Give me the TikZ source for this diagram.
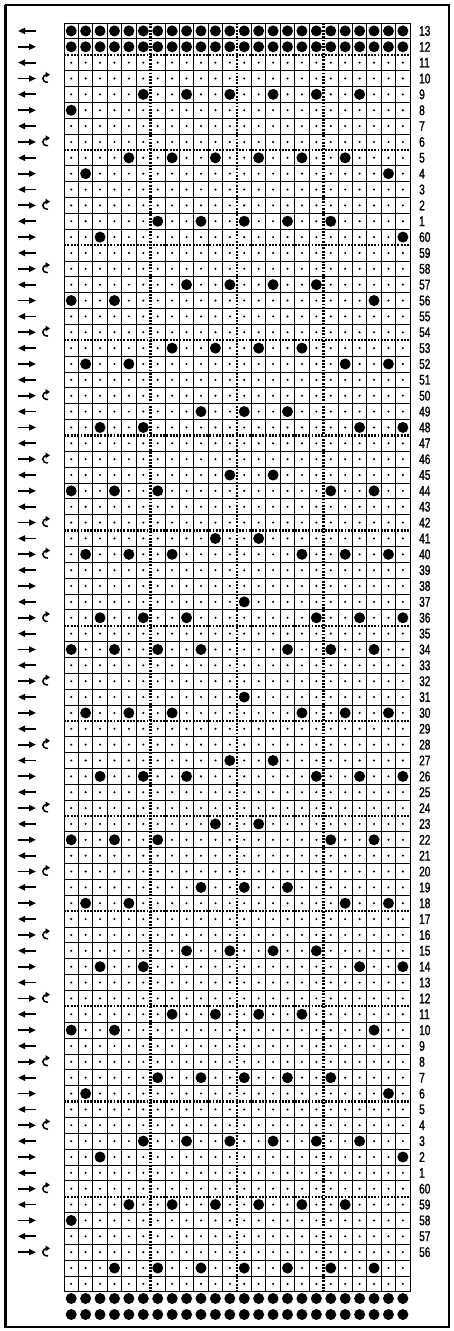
\documentclass[tikz,border=0pt]{standalone}
\usepackage{fontspec}
\newfontfamily\labfont{Liberation Sans}[FakeStretch=0.72,FakeBold=1.2]
\usetikzlibrary{arrows.meta}
\tikzset{
  gridline/.style={line width=0.8pt,black},
  dotline/.style={line width=2.3pt,black,dash pattern=on 1.9pt off 1.4pt},
  hole/.style={fill=black},
  pin/.style={fill=black},
  dirarrow/.style={line width=1.8pt,-{Triangle[length=7pt,width=6pt]}},
  curlarrow/.style={line width=1.5pt,-{Triangle[length=4.5pt,width=5.5pt]}},
  rowlabel/.style={anchor=west,inner sep=0pt,font=\labfont\fontsize{14}{14}\selectfont},
  frame/.style={line width=1.2pt}
}
\begin{document}
\begin{tikzpicture}[x=1pt,y=-1pt]
\useasboundingbox (0,0) rectangle (453,1331);
\fill[white] (0,0) rectangle (453,1331);
% frame
\draw[frame] (5,5) -- (449,5) -- (449,1327) -- (5,1327);
\draw[line width=2.4pt] (5.5,4.5) -- (5.5,1327.5);
% grid
\def\xo{64}\def\cw{14.42}\def\yo{23}\def\rh{15.86}
\foreach \r in {0,...,80}{
  \pgfmathtruncatemacro\m{mod(\r+4,6)}
  \pgfmathsetmacro\yy{\yo+\rh*\r}
  \ifnum\r>1\ifnum\r<75\ifnum\m=0
    \draw[dotline] (64,\yy) -- (410,\yy);
  \else
    \draw[gridline] (64,\yy) -- (410,\yy);
  \fi\else\draw[gridline] (64,\yy) -- (410,\yy);\fi\else\draw[gridline] (64,\yy) -- (410,\yy);\fi
}
\foreach \c in {0,...,24}{
  \pgfmathsetmacro\xx{\xo+\cw*\c}
  \ifnum\c=6 \draw[dotline] (\xx,23) -- (\xx,1291.8);
  \else\ifnum\c=12 \draw[dotline] (\xx,23) -- (\xx,1291.8);
  \else\ifnum\c=18 \draw[dotline] (\xx,23) -- (\xx,1291.8);
  \else \draw[gridline] (\xx,23) -- (\xx,1291.8);
  \fi\fi\fi
}
% small dots in every cell
\foreach \r in {2,...,79}{
  \foreach \c in {0,...,23}{
    \fill ({\xo+\cw*(\c+0.5)},{\yo+\rh*(\r+0.5)}) circle (1.15);
  }
}
% full rows of holes (13, 12)
\foreach \r in {0,1}{
  \foreach \c in {0,...,23}{
    \fill[hole] ({\xo+\cw*(\c+0.5)},{\yo+\rh*(\r+0.5)}) circle (5.5);
  }
}
% punched holes
\foreach \r/\hs in {
 4/{5,8,11,14,17,20}, 5/{0}, 8/{4,7,10,13,16,19}, 9/{1,22}, 12/{6,9,12,15,18},
 13/{2,23}, 16/{8,11,14,17}, 17/{0,3,21}, 20/{7,10,13,16}, 21/{1,4,19,22},
 24/{9,12,15}, 25/{2,5,20,23}, 28/{11,14}, 29/{0,3,6,18,21}, 32/{10,13},
 33/{1,4,7,16,19,22}, 36/{12}, 37/{2,5,8,17,20,23}, 39/{0,3,6,9,15,18,21},
 42/{12}, 43/{1,4,7,16,19,22}, 46/{11,14}, 47/{2,5,8,17,20,23}, 50/{10,13},
 51/{0,3,6,18,21}, 54/{9,12,15}, 55/{1,4,19,22}, 58/{8,11,14,17},
 59/{2,5,20,23}, 62/{7,10,13,16}, 63/{0,3,21}, 66/{6,9,12,15,18}, 67/{1,22},
 70/{5,8,11,14,17,20}, 71/{2,23}, 74/{4,7,10,13,16,19}, 75/{0},
 78/{3,6,9,12,15,18,21}}{
  \foreach \c in \hs {
    \fill[hole] ({\xo+\cw*(\c+0.5)},{\yo+\rh*(\r+0.5)}) circle (5.5);
  }
}
% pin holes below the grid
\foreach \yy in {1298.5,1314.5}{
  \foreach \c in {0,...,23}{
    \fill[pin] ({\xo+\cw*(\c+0.5)},\yy) circle (5.5);
  }
}
% row labels and direction arrows
\foreach \i in {0,...,77}{
  \pgfmathtruncatemacro\lab{\i<13 ? 13-\i : (\i<73 ? 73-\i : 133-\i)}
  \pgfmathsetmacro\yy{\yo+\rh*(\i+0.5)}
  \node[rowlabel] (lab\i) at (419,\yy) {\lab};
  \ifodd\i\relax
    \draw[dirarrow] (18,\yy) -- (36,\yy);
  \else
    \draw[dirarrow] (36,\yy) -- (18,\yy);
  \fi
}
% turning marks
\foreach \i in {3,7,11,15,19,23,27,31,33,37,41,45,49,53,57,61,65,69,73,77}{
  \pgfmathsetmacro\yy{\yo+\rh*(\i+0.5)}
  \draw[curlarrow] (48,{\yy+3.8}) .. controls (41,{\yy+3.8}) and (41,{\yy-3.8}) .. (48,{\yy-3.8}) -- (50,{\yy-3.8});
}
\end{tikzpicture}
\end{document}
